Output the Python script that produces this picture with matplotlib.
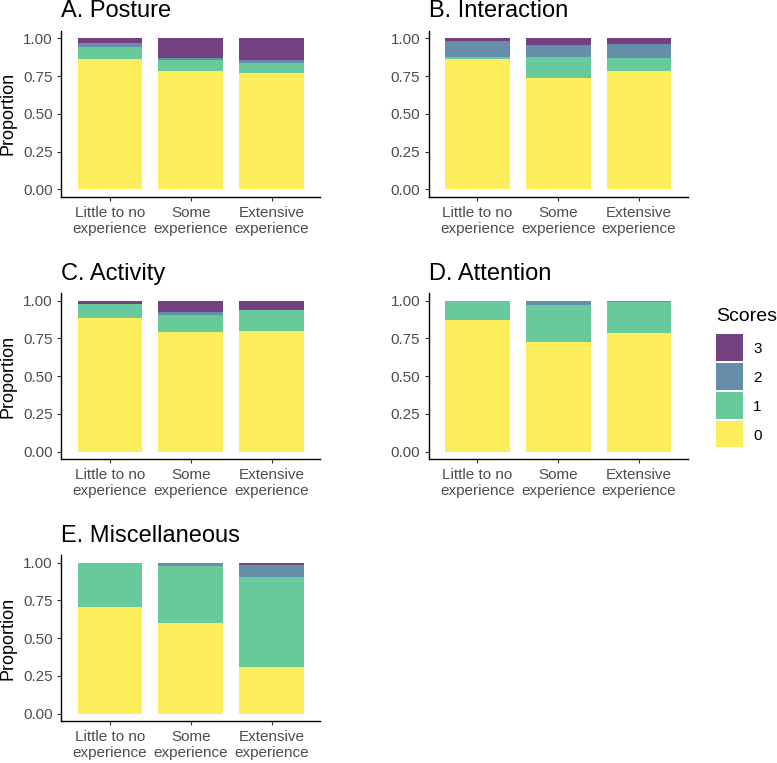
import numpy as np
import matplotlib
matplotlib.use('Agg')
import matplotlib.pyplot as plt
from matplotlib.patches import Rectangle

plt.rcParams['font.family'] = ['Liberation Sans', 'DejaVu Sans']

# experience groups on the x axis
groups = ['Little to no\nexperience', 'Some\nexperience', 'Extensive\nexperience']
panel_titles = ['A. Posture', 'B. Interaction', 'C. Activity',
                'D. Attention', 'E. Miscellaneous']
score_names = ['0', '1', '2', '3']

# proportion of each score, one row per panel, one column per group
score0 = [[0.861, 0.781, 0.770],
          [0.861, 0.740, 0.786],
          [0.885, 0.793, 0.799],
          [0.872, 0.728, 0.788],
          [0.706, 0.601, 0.309]]
score1 = [[0.081, 0.075, 0.066],
          [0.018, 0.137, 0.082],
          [0.093, 0.108, 0.139],
          [0.128, 0.243, 0.201],
          [0.294, 0.377, 0.596]]
score2 = [[0.028, 0.015, 0.020],
          [0.106, 0.077, 0.093],
          [0.000, 0.026, 0.000],
          [0.000, 0.029, 0.007],
          [0.000, 0.022, 0.082]]
score3 = [[0.030, 0.129, 0.144],
          [0.015, 0.046, 0.039],
          [0.022, 0.073, 0.062],
          [0.000, 0.000, 0.004],
          [0.000, 0.000, 0.013]]


def blend(c, alpha=0.75):
    # viridis colour drawn with alpha over white
    c = np.array(c[:3])
    return tuple(alpha * c + (1 - alpha))


viridis = matplotlib.colormaps['viridis']
colors = [blend(viridis(v)) for v in (1.0, 0.6667, 0.3333, 0.0)]

W, H = 777, 763
fig = plt.figure(figsize=(W / 100, H / 100), dpi=100)

col_left = [61.5, 429.0]
col_width = 258.5
row_top = [30.8, 293.0, 555.1]
row_height = 166.1

scores = [score0, score1, score2, score3]
x = np.arange(1, 4)

for p, title in enumerate(panel_titles):
    r, c = divmod(p, 2)
    ax = fig.add_axes([col_left[c] / W, 1 - (row_top[r] + row_height) / H,
                       col_width / W, row_height / H])
    bottom = np.zeros(3)
    for s in range(4):
        vals = np.array(scores[s][p])
        ax.bar(x, vals, width=0.8, bottom=bottom, color=colors[s],
               linewidth=0)
        bottom += vals
    ax.set_xlim(0.4, 3.6)
    ax.set_ylim(-0.05, 1.05)
    ax.set_xticks(x)
    ax.set_xticklabels(groups)
    ax.set_yticks([0, 0.25, 0.5, 0.75, 1.0])
    ax.set_yticklabels(['0.00', '0.25', '0.50', '0.75', '1.00'])
    for side in ['top', 'right']:
        ax.spines[side].set_visible(False)
    for side in ['left', 'bottom']:
        ax.spines[side].set_linewidth(1.0)
        ax.spines[side].set_color('black')
    ax.tick_params(axis='both', labelsize=11, labelcolor='#4D4D4D',
                   length=2.9, width=0.8, color='#333333', pad=3.5)
    ax.set_title(title, loc='left', fontsize=17, pad=9.7)
    if c == 0:
        ax.set_ylabel('Proportion', fontsize=13, labelpad=5)

# legend, drawn by hand so the keys are square and close together
key_left, key_size, key_step, key_top = 716, 26.6, 28.8, 334.3
fig.text(key_left / W, 1 - 320.7 / H, 'Scores', fontsize=14,
         ha='left', va='baseline')
for i, s in enumerate(range(3, -1, -1)):
    top = key_top + i * key_step
    fig.add_artist(Rectangle((key_left / W, 1 - (top + key_size) / H),
                             key_size / W, key_size / H,
                             transform=fig.transFigure,
                             facecolor=colors[s], edgecolor='none'))
    fig.text(753 / W, 1 - (top + key_size / 2) / H, score_names[s],
             fontsize=11, ha='left', va='center_baseline')

fig.savefig('out.png', dpi=100)
